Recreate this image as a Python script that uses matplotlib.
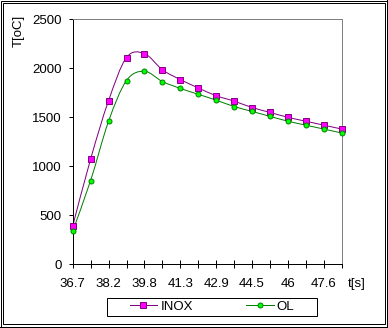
import numpy as np
import matplotlib
matplotlib.use('Agg')
import matplotlib.pyplot as plt
from matplotlib.path import Path
from matplotlib.patches import PathPatch, Rectangle
from matplotlib.lines import Line2D

plt.rcParams['font.family'] = ['Liberation Sans', 'DejaVu Sans']

# time axis categories (only every other label is printed)
t_labels = ['36.7', '37.5', '38.2', '39.0', '39.8', '40.5', '41.3', '42.1',
            '42.9', '43.7', '44.5', '45.2', '46', '46.8', '47.6', '48.3']
inox = [390, 1075, 1670, 2110, 2150, 1985, 1885, 1800,
        1720, 1665, 1600, 1550, 1500, 1460, 1420, 1380]
ol = [340, 855, 1460, 1875, 1970, 1865, 1795, 1735,
      1675, 1610, 1560, 1510, 1460, 1420, 1380, 1340]

W, H = 388, 328
PX = 0.72  # one pixel in points at dpi 100
FS = 9.5


def fx(x):
    return x / W


def fy(y):
    return 1 - y / H


def smooth_path(x, y):
    # excel-like smoothed line: cubic bezier through the points
    pts = np.column_stack([x, y]).astype(float)
    n = len(pts)
    verts = [pts[0]]
    codes = [Path.MOVETO]
    for i in range(n - 1):
        p0 = pts[max(i - 1, 0)]
        p1 = pts[i]
        p2 = pts[i + 1]
        p3 = pts[min(i + 2, n - 1)]
        verts += [p1 + (p2 - p0) / 6, p2 - (p3 - p1) / 6, p2]
        codes += [Path.CURVE4] * 3
    return Path(verts, codes)


fig = plt.figure(figsize=(W / 100, H / 100), dpi=100)
ax = fig.add_axes([fx(72.7), fy(264.3), 269 / W, 245 / H])

x = np.arange(len(t_labels))
series = [
    ('INOX', inox, '#800080', '#FF00FF', 's', 4.0),
    ('OL', ol, '#008000', '#00FF00', 'o', 3.6),
]
handles = []
for name, vals, lc, fc, mk, ms in series:
    ax.add_patch(PathPatch(smooth_path(x, vals), fill=False, ec=lc,
                           lw=1.0 * PX, clip_on=False, zorder=2))
    ax.plot(x, vals, ls='none', marker=mk, ms=ms, mfc=fc, mec=lc,
            mew=0.7, clip_on=False, zorder=3)
    handles.append(Line2D([], [], color=lc, lw=1.0 * PX, marker=mk, ms=ms,
                          mfc=fc, mec=lc, mew=0.7))

ax.set_xlim(0, len(t_labels) - 1)
ax.set_ylim(0, 2500)
ax.set_yticks(range(0, 2501, 500))
ax.set_xticks(x)
ax.set_xticklabels([lab if i % 2 == 0 else '' for i, lab in enumerate(t_labels)])

ax.tick_params(axis='y', direction='out', length=3.2, width=PX, pad=4.8,
               labelsize=FS)
ax.tick_params(axis='x', direction='inout', length=6.2, width=PX, pad=7,
               labelsize=FS)
for side in ['left', 'bottom']:
    ax.spines[side].set_linewidth(PX)
    ax.spines[side].set_color('black')
for side in ['top', 'right']:
    ax.spines[side].set_linewidth(PX)
    ax.spines[side].set_color('#808080')

fig.text(fx(19), fy(31), 'T[oC]', rotation=90, ha='center', va='center',
         fontsize=FS)
fig.text(fx(357), fy(284), 't[s]', ha='center', va='center', fontsize=FS)

# legend box and entries
fig.add_artist(Rectangle((fx(107), fy(316)), 210 / W, 18.5 / H,
                         transform=fig.transFigure, fill=False, ec='black',
                         lw=PX))
fig.legend(handles, [s[0] for s in series], loc='center',
           bbox_to_anchor=(fx(212), fy(306.7)), ncol=2, frameon=False,
           handlelength=2.1, handletextpad=0.25, columnspacing=4.0,
           fontsize=FS, borderpad=0)

# double chart border
fig.add_artist(Rectangle((fx(0.5), fy(326.5)), 386 / W, 326 / H,
                         transform=fig.transFigure, fill=False, ec='black',
                         lw=PX))
fig.add_artist(Rectangle((fx(2.5), fy(323.5)), 382 / W, 321 / H,
                         transform=fig.transFigure, fill=False, ec='black',
                         lw=PX))
fig.add_artist(Line2D([fx(387.5), fx(387.5)], [fy(0), fy(328)],
                      transform=fig.transFigure, color='black', lw=2 * PX))
fig.add_artist(Line2D([fx(0), fx(388)], [fy(327.5), fy(327.5)],
                      transform=fig.transFigure, color='black', lw=2 * PX))

fig.savefig('out.png', dpi=100)
